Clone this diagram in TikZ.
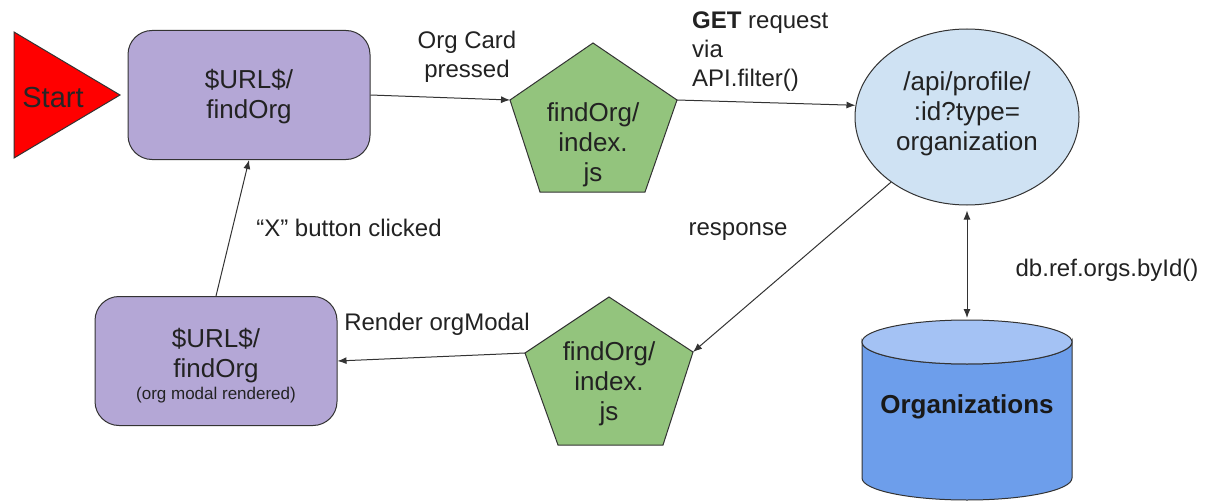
\documentclass[tikz,border=0pt]{standalone}
\usepackage{fontspec}
\setmainfont{Liberation Sans}
\usetikzlibrary{arrows.meta,shapes.geometric}
\definecolor{boxfill}{HTML}{B4A7D6}
\definecolor{pentfill}{HTML}{93C47D}
\definecolor{ellfill}{HTML}{CFE2F3}
\definecolor{dbbody}{HTML}{6D9EEB}
\definecolor{dbtopfill}{HTML}{A4C2F4}
\definecolor{edgecol}{HTML}{333333}
\definecolor{txt}{HTML}{222222}
\begin{document}
\begin{tikzpicture}[x=1pt,y=-1pt,
  shapeline/.style={draw=edgecol, line width=1pt},
  urlbox/.style={shapeline, fill=boxfill, rounded corners=24pt, minimum width=242pt, minimum height=129pt, inner sep=0pt},
  nodetext/.style={align=center, font=\fontsize{26}{30}\selectfont, text=txt, inner sep=0pt},
  lbl/.style={align=center, font=\fontsize{24}{29}\selectfont, text=txt, inner sep=0pt},
  tip/.style={-{Latex[length=9pt,width=7pt]}},
  conn/.style={draw=edgecol, line width=1pt, tip},
]
\useasboundingbox (0,0) rectangle (1205,503);

% Start triangle
\coordinate (s1) at (14,32);
\coordinate (s2) at (120,95);
\coordinate (s3) at (14,158);
\draw[shapeline, fill=red] (s1) -- (s2) -- (s3) -- cycle;
\node[nodetext, font=\fontsize{29}{32}\selectfont, text=black!85] (start) at (53,98) {Start};

% URL boxes
\node[urlbox] (box1) at (249,95) {};
\node[nodetext] (box1t) at (249,97) {\$URL\$/\\findOrg};
\node[urlbox] (box2) at (216,361) {};
\node[nodetext] (box2t) at (216,356) {\$URL\$/\\findOrg};
\node[nodetext, font=\fontsize{17}{20}\selectfont] (box2s) at (216,395) {(org modal rendered)};

% pentagon 1
\coordinate (p1t) at (593,43);
\coordinate (p1r) at (677,100);
\coordinate (p1br) at (645,192);
\coordinate (p1bl) at (540,192);
\coordinate (p1l) at (510,100);
\draw[shapeline, fill=pentfill] (p1t) -- (p1r) -- (p1br) -- (p1bl) -- (p1l) -- cycle;
\node[nodetext] (js1) at (593,145) {findOrg/\\index.\\js};

% pentagon 2
\coordinate (p2t) at (609,297);
\coordinate (p2r) at (693,352);
\coordinate (p2br) at (663,445);
\coordinate (p2bl) at (558,445);
\coordinate (p2l) at (525,353);
\draw[shapeline, fill=pentfill] (p2t) -- (p2r) -- (p2br) -- (p2bl) -- (p2l) -- cycle;
\node[nodetext] (js2) at (609,384) {findOrg/\\index.\\js};

% API ellipse
\node[shapeline, ellipse, fill=ellfill, minimum width=224pt, minimum height=176pt, inner sep=0pt] (api) at (967,117) {};
\node[nodetext] (apit) at (967,114) {/api/profile/\\:id?type=\\organization};

% database cylinder
\draw[shapeline, fill=dbbody] (862,342) -- (862,478)
  arc[start angle=180, end angle=0, x radius=105, y radius=22]
  -- (1072,342)
  arc[start angle=0, end angle=180, x radius=105, y radius=22] -- cycle;
\draw[shapeline, fill=dbtopfill] (967,342) ellipse [x radius=105, y radius=22];
\coordinate (dbtopc) at (967,320);
\node[nodetext, font=\bfseries\fontsize{26}{30}\selectfont, text=black!90] (db) at (967,407) {Organizations};

% connectors
\draw[conn] (box1.east) -- (p1l);
\draw[conn] (p1r) -- (api.174);
\draw[conn] (api) -- (p2r);
\draw[conn] (p2l) -- (box2.east);
\draw[conn] (box2.north) -- (box1.south);
\draw[draw=edgecol, line width=1pt, {Latex[length=9pt,width=7pt]}-{Latex[length=9pt,width=7pt]}, shorten <=5pt, shorten >=2pt] (api.south) -- (dbtopc);

% labels
\node[lbl] (l1) at (467,57) {Org Card\\pressed};
\node[lbl, align=left, anchor=west] (l2) at (692,52) {\textbf{GET} request\\via\\API.filter()};
\node[lbl] (l3) at (738,232) {response};
\node[lbl] (l4) at (1107,270) {db.ref.orgs.byId()};
\node[lbl] (l5) at (349,228) {“X” button clicked};
\node[lbl] (l6) at (437,324) {Render orgModal};
\end{tikzpicture}
\end{document}
